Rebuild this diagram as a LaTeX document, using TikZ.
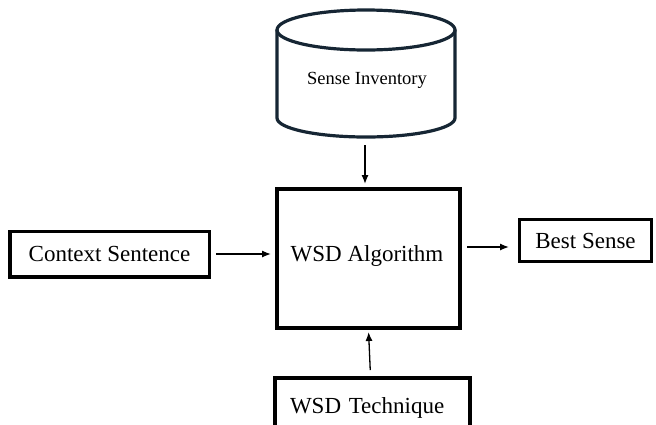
\documentclass[tikz,border=0pt]{standalone}
\usepackage{fontspec}
\setmainfont{Liberation Serif}
\usetikzlibrary{arrows.meta,calc}
\definecolor{cylcol}{RGB}{22,38,52}
\tikzset{
  box/.style={draw=black, fill=white, inner sep=0pt, font=\fontsize{23}{27}\selectfont},
  arr/.style={draw=black, line width=1.3pt, -{Latex[length=9pt,width=7pt]}},
  cyl/.style={draw=cylcol, line width=3.2pt, line cap=round, line join=round}
}
\begin{document}
\begin{tikzpicture}[x=1pt,y=-1pt]
\useasboundingbox (0,0) rectangle (656,424);
\clip (0,0) rectangle (656,424);
% cylinder
\draw[cyl] (277,30) -- (277,118) arc[start angle=180,end angle=0,x radius=89,y radius=19] -- (455,30);
\draw[cyl] (366,30) ellipse[x radius=89, y radius=20];
\node[font=\fontsize{18.5}{22}\selectfont] (si) at (367,80) {Sense Inventory};
\coordinate (sibot) at (365,145);
% boxes
\node[box, line width=4pt, minimum width=183pt, minimum height=139pt] (algo) at (368.5,258.5) {};
\node[font=\fontsize{23}{27}\selectfont] (algotext) at (367,256) {WSD Algorithm};
\node[box, line width=3.5pt, minimum width=199.5pt, minimum height=45.5pt] (ctx) at (109.5,254) {Context Sentence};
\node[box, line width=3pt, minimum width=132pt, minimum height=42pt] (best) at (585.5,240.5) {Best Sense};
\node[box, line width=4pt, minimum width=195pt, minimum height=60pt, text width=195pt, align=left] (tech) at (372.5,408) {\hspace*{15pt}WSD Technique\\[14pt]};
% arrows
\draw[arr, shorten >=3pt] (sibot) -- (sibot |- algo.north);
\draw[arr, shorten <=5pt, shorten >=4pt] (ctx.east) -- (ctx.east -| algo.west);
\draw[arr, shorten <=5pt, shorten >=9pt] ([yshift=-6.5pt]best.west -| algo.east) -- ([yshift=-6.5pt]best.west);
\draw[arr, shorten <=6pt, shorten >=2pt] ([xshift=-2pt]tech.north) -- (algo.south);
\end{tikzpicture}
\end{document}
